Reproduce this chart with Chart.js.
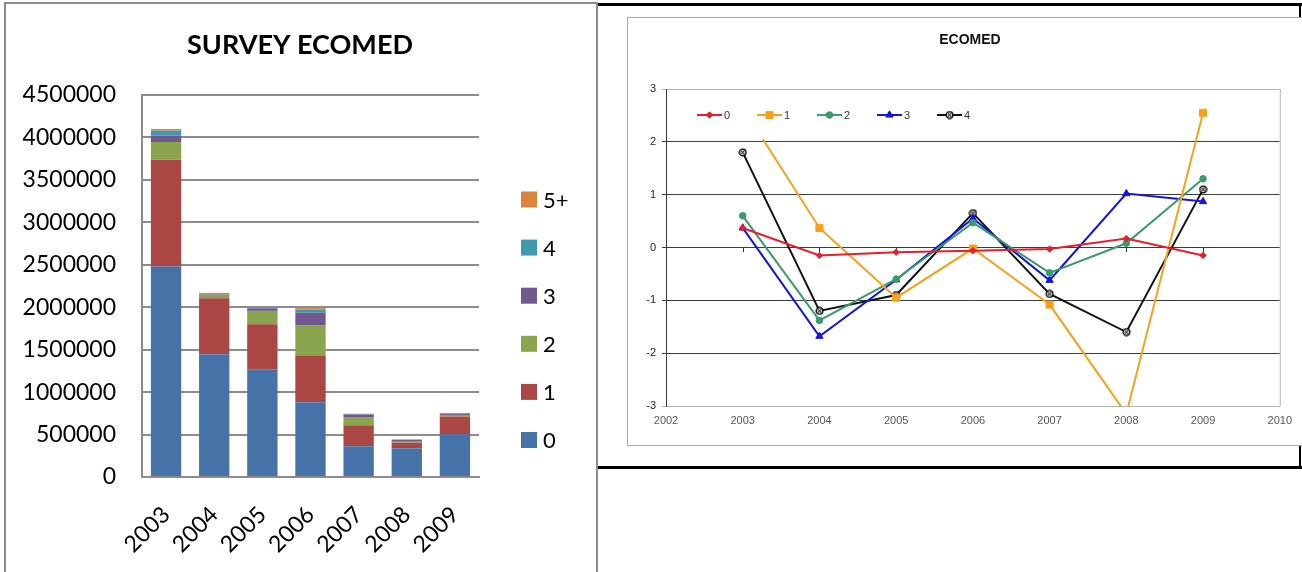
<!DOCTYPE html>
<html>
<head>
<meta charset="utf-8">
<script src="https://cdn.jsdelivr.net/npm/chart.js@4.4.1/dist/chart.umd.min.js"></script>
<style>
  html, body { margin: 0; padding: 0; background: #fff; width: 1302px; height: 572px; overflow: hidden; }
  .abs { position: absolute; box-sizing: border-box; }
  #leftFrame { left: 4px; top: 2px; width: 594px; height: 620px; border: 2px solid #8c8c8c; border-bottom: none; }
  #blackTop { left: 598px; top: 3px; width: 704px; height: 3px; background: #000; }
  #blackBottom { left: 598px; top: 466px; width: 704px; height: 3px; background: #000; }
  #blackRight { left: 1299px; top: 3px; width: 2px; height: 466px; background: #000; }
  #innerBox { left: 627px; top: 17px; width: 700px; height: 429px; border: 1px solid #a8a8a8; background: #fff; }
  #survey { left: 0; top: 0; }
  #ecomed { left: 628px; top: 18px; }
</style>
</head>
<body>
<div id="leftFrame" class="abs"></div>
<div id="blackTop" class="abs"></div>
<div id="blackBottom" class="abs"></div>
<div id="blackRight" class="abs"></div>
<div id="innerBox" class="abs"></div>
<canvas id="survey" class="abs" width="598" height="572"></canvas>
<canvas id="ecomed" class="abs" width="672" height="426"></canvas>
<script>
// ---- Survey totals by age group (stacked columns) ----
const years = ['2003', '2004', '2005', '2006', '2007', '2008', '2009'];
const age0  = [2480000, 1445000, 1270000, 880000, 362000, 338000, 503000];
const age1  = [1258000,  660000,  530000, 550000, 247000,  66000, 208000];
const age2  = [ 208000,   43000,  157000, 360000,  90000,  20000,  20000];
const age3  = [  75000,   12000,   30000, 145000,  38000,  12000,  12000];
const age4  = [  59000,    6000,    6000,  35000,   5000,   5000,   8000];
const age5p = [  20000,    3000,    3000,  20000,   3000,   3000,   4000];
const ageLabels = ['0', '1', '2', '3', '4', '5+'];
const ageColors = ['#4572A7', '#AA4643', '#89A54E', '#71588F', '#4198AF', '#DB843D'];

// ---- Standardised indices by age group (line chart) ----
const indexYears = [2003, 2004, 2005, 2006, 2007, 2008, 2009];
const idx0 = [0.37, -0.15, -0.09, -0.06, -0.03,  0.17, -0.15];
const idx1 = [2.65,  0.37, -0.95, -0.02, -1.08, -3.15,  2.55];
const idx2 = [0.60, -1.38, -0.60,  0.47, -0.48,  0.08,  1.30];
const idx3 = [0.37, -1.68, -0.61,  0.55, -0.62,  1.02,  0.87];
const idx4 = [1.80, -1.20, -0.90,  0.65, -0.88, -1.60,  1.10];
const idxLabels = ['0', '1', '2', '3', '4'];
const idxColors = ['#ee1c25', '#f7a11a', '#3a9b6c', '#1414e0', '#111111'];

// small ringed-cross marker for the last series
function ringCross() {
  const c = document.createElement('canvas');
  c.width = 9; c.height = 9;
  const g = c.getContext('2d');
  g.fillStyle = '#c8c8c8';
  g.strokeStyle = '#000';
  g.lineWidth = 1.3;
  g.beginPath(); g.arc(4.5, 4.5, 3.4, 0, Math.PI * 2); g.fill(); g.stroke();
  g.lineWidth = 1;
  g.beginPath(); g.moveTo(2.8, 2.8); g.lineTo(6.2, 6.2); g.moveTo(6.2, 2.8); g.lineTo(2.8, 6.2); g.stroke();
  return c;
}

function drawAll() {
  // ---------------- stacked columns ----------------
  const ageSeries = [age0, age1, age2, age3, age4, age5p];
  const surveyDecor = {
    id: 'surveyDecor',
    afterDraw(chart) {
      const ctx = chart.ctx;
      ctx.save();
      ctx.fillStyle = '#000';
      ctx.font = 'bold 27px Lato';
      ctx.textAlign = 'center';
      ctx.textBaseline = 'middle';
      ctx.fillText('SURVEY ECOMED', 300, 45);
      // legend, highest group on top
      ctx.font = '22px Lato';
      ctx.textAlign = 'left';
      const n = chart.data.datasets.length;
      for (let k = 0; k < n; k++) {
        const ds = chart.data.datasets[k];
        const cy = 440 - 48.1 * k;
        ctx.fillStyle = ds.backgroundColor;
        ctx.fillRect(521, cy - 8, 16, 16);
        ctx.fillStyle = '#000';
        ctx.fillText(ds.label, 543, cy + 1);
      }
      ctx.restore();
    }
  };
  new Chart(document.getElementById('survey'), {
    type: 'bar',
    data: {
      labels: years,
      datasets: ageSeries.map((d, i) => ({
        label: ageLabels[i],
        data: d,
        backgroundColor: ageColors[i],
        borderWidth: 0,
        categoryPercentage: 1,
        barPercentage: 0.63
      }))
    },
    options: {
      responsive: false,
      animation: false,
      events: [],
      layout: { padding: { top: 95, right: 119, bottom: 0, left: 0 } },
      plugins: { legend: { display: false }, title: { display: false }, tooltip: { enabled: false } },
      scales: {
        x: {
          stacked: true,
          grid: { display: false, drawTicks: false },
          border: { color: '#8c8c8c', width: 2 },
          ticks: {
            font: { family: 'Lato', size: 23 },
            color: '#000',
            minRotation: 45, maxRotation: 45,
            padding: 24,
            autoSkip: false
          },
          afterFit(s) { s.height = 95; }
        },
        y: {
          stacked: true,
          min: 0, max: 4500000,
          grid: { color: '#8c8c8c', lineWidth: 2, drawTicks: false },
          border: { color: '#8c8c8c', width: 2 },
          ticks: {
            stepSize: 500000,
            font: { family: 'Lato', size: 23 },
            color: '#000',
            padding: 26,
            callback: v => String(v)
          },
          afterFit(s) { s.width = 142; }
        }
      }
    },
    plugins: [surveyDecor]
  });

  // ---------------- index lines ----------------
  const idxSeries = [idx0, idx1, idx2, idx3, idx4];
  const markers = [
    { style: 'rectRot', radius: 3.2 },
    { style: 'rect', radius: 5 },
    { style: 'circle', radius: 3.3 },
    { style: 'triangle', radius: 4.2 },
    { style: ringCross(), radius: 4.5 }
  ];
  const ecomedDecor = {
    id: 'ecomedDecor',
    beforeDatasetsDraw(chart) {
      const { ctx, chartArea, scales } = chart;
      ctx.save();
      // right edge of the plot frame
      ctx.strokeStyle = '#b4b4b4';
      ctx.lineWidth = 1;
      ctx.beginPath();
      ctx.moveTo(chartArea.right + 0.5, chartArea.top);
      ctx.lineTo(chartArea.right + 0.5, chartArea.bottom);
      ctx.stroke();
      // category tick marks along the zero line
      const y0 = Math.round(scales.y.getPixelForValue(0));
      ctx.strokeStyle = '#333';
      ctx.beginPath();
      for (let yr = 2003; yr <= 2009; yr++) {
        const x = Math.round(scales.x.getPixelForValue(yr)) + 0.5;
        ctx.moveTo(x, y0);
        ctx.lineTo(x, y0 + 4);
      }
      ctx.stroke();
      ctx.restore();
    },
    afterDatasetsDraw(chart) {
      const ctx = chart.ctx;
      ctx.save();
      // title
      ctx.fillStyle = '#111';
      ctx.font = 'bold 14px "Liberation Sans", Arial, sans-serif';
      ctx.textAlign = 'center';
      ctx.textBaseline = 'middle';
      ctx.fillText('ECOMED', 342, 22);
      // in-plot legend on a white panel
      ctx.fillStyle = '#fff';
      ctx.fillRect(60, 74, 292, 47);
      ctx.font = '11px "Liberation Sans", Arial, sans-serif';
      ctx.textAlign = 'left';
      const ly = 97;
      chart.data.datasets.forEach((ds, k) => {
        const x0 = 69 + 60 * k;
        ctx.strokeStyle = ds.borderColor;
        ctx.lineWidth = 2;
        ctx.beginPath();
        ctx.moveTo(x0, ly);
        ctx.lineTo(x0 + 25, ly);
        ctx.stroke();
        ctx.fillStyle = ds.backgroundColor;
        ctx.strokeStyle = ds.borderColor;
        ctx.lineWidth = 1;
        Chart.helpers.drawPoint(ctx, { pointStyle: ds.pointStyle, radius: ds.pointRadius, rotation: 0, borderWidth: 1 }, x0 + 12.5, ly);
        ctx.fillStyle = '#333';
        ctx.fillText(ds.label, x0 + 27, ly + 1);
      });
      ctx.restore();
    }
  };
  new Chart(document.getElementById('ecomed'), {
    type: 'line',
    data: {
      datasets: idxSeries.map((d, i) => ({
        label: idxLabels[i],
        data: indexYears.map((yr, j) => ({ x: yr, y: d[j] })),
        borderColor: idxColors[i],
        backgroundColor: idxColors[i],
        borderWidth: 2,
        pointStyle: markers[i].style,
        pointRadius: markers[i].radius,
        pointBorderWidth: 1,
        tension: 0,
        clip: 0
      }))
    },
    options: {
      responsive: false,
      animation: false,
      events: [],
      layout: { padding: { top: 71, right: 14, bottom: 0, left: 0 } },
      plugins: { legend: { display: false }, title: { display: false }, tooltip: { enabled: false } },
      scales: {
        x: {
          type: 'linear',
          min: 2002, max: 2010,
          grid: { display: false, drawTicks: false },
          border: { color: '#b4b4b4', width: 1 },
          ticks: {
            stepSize: 1,
            font: { family: 'Liberation Sans', size: 11 },
            color: '#555',
            padding: 8,
            callback: v => String(v)
          },
          afterFit(s) { s.height = 38; }
        },
        y: {
          min: -3, max: 3,
          grid: {
            color: c => (c.tick && (c.tick.value === 3 || c.tick.value === -3)) ? '#b4b4b4' : '#3c3c3c',
            lineWidth: 1,
            tickLength: 4
          },
          border: { color: '#3c3c3c', width: 1 },
          ticks: {
            stepSize: 1,
            font: { family: 'Liberation Sans', size: 11 },
            color: '#222',
            padding: 6
          },
          afterFit(s) { s.width = 38; }
        }
      }
    },
    plugins: [ecomedDecor]
  });
}

if (document.fonts && document.fonts.load) {
  Promise.all([
    document.fonts.load('23px Lato'),
    document.fonts.load('bold 27px Lato'),
    document.fonts.load('11px "Liberation Sans"'),
    document.fonts.load('bold 14px "Liberation Sans"')
  ]).then(drawAll, drawAll);
} else {
  drawAll();
}
</script>
</body>
</html>
